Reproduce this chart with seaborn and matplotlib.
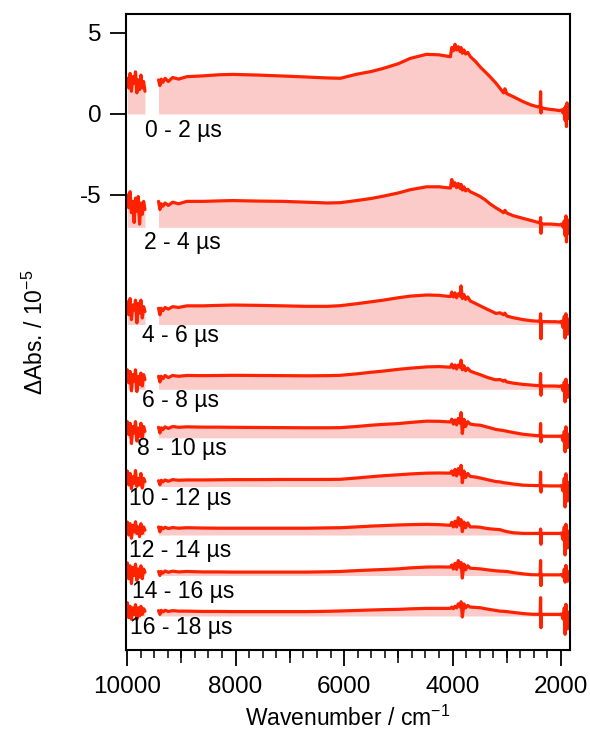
import numpy as np
import pandas as pd
import matplotlib
matplotlib.use("Agg")
import matplotlib.pyplot as plt
import seaborn as sns

# ---------------- data ----------------
labels = ["0 - 2 µs", "2 - 4 µs", "4 - 6 µs", "6 - 8 µs", "8 - 10 µs",
          "10 - 12 µs", "12 - 14 µs", "14 - 16 µs", "16 - 18 µs"]
offsets = [0.0, -7.0, -13.0, -17.0, -20.0, -23.0, -26.0, -28.5, -31.0]

wn_a = [9995, 9970, 9945, 9920, 9895, 9870, 9845, 9820, 9795, 9770, 9745, 9720, 9695, 9670]
wn_b = [9420, 9395, 9370, 9340, 9300, 9240, 9160, 9050, 8900, 8600,
        8300, 8040, 7600, 7120, 6700, 6300, 6070, 5770, 5500, 5280,
        5000, 4780, 4480, 4250, 4040, 4015, 3985, 3955, 3925, 3895,
        3860, 3843, 3820, 3790, 3760, 3720, 3675, 3580, 3490, 3400,
        3310, 3200, 3125, 3060, 3035, 3000, 2885, 2700, 2550, 2420,
        2385, 2377, 2370, 2362, 2330, 2200, 2110, 2030, 1990, 1960,
        1940, 1925, 1910, 1900, 1890, 1880, 1870, 1862]

seg_a = [
    [2.2, 1.6, 2.5, 1.4, 2.3, 1.9, 2.6, 1.3, 2.1, 1.5, 2.4, 1.6, 2.0, 1.4],
    [2.0, 1.2, 2.2, 0.9, 1.6, 0.3, 1.8, 1.0, 1.9, 0.2, 1.5, 0.8, 1.6, 1.1],
    [1.4, 0.6, 1.6, 0.3, 1.2, 0.9, 1.5, 0.1, 1.3, 0.7, 1.5, 0.4, 1.1, 0.8],
    [1.2, 0.4, 1.1, -0.1, 0.9, 0.5, 1.2, -0.14, 0.8, 0.3, 1.0, 0.2, 0.9, 0.6],
    [1.0, 0.2, 0.9, -0.35, 0.7, 0.3, 1.0, -0.2, 0.6, 0.1, 0.9, 0.0, 0.7, 0.4],
    [0.95, 0.1, 0.8, -0.14, 0.6, 0.2, 0.98, 0.0, 0.5, 0.1, 0.8, -0.1, 0.5, 0.3],
    [0.8, 0.0, 0.7, -0.2, 0.6, 0.2, 0.82, 0.1, 0.5, -0.1, 0.7, 0.1, 0.5, 0.3],
    [0.78, -0.2, 0.6, -0.5, 0.5, 0.0, 0.7, -0.3, 0.4, -0.1, 0.6, -0.2, 0.4, 0.2],
    [0.82, -0.1, 0.6, -0.2, 0.5, 0.1, 0.7, -0.2, 0.5, 0.0, 0.6, 0.1, 0.45, 0.3],
]

seg_b = [
    # 0 - 2 us
    [2.1, 1.75, 2.15, 1.95, 2.2, 2.0, 2.25, 2.15, 2.3, 2.35,
     2.42, 2.44, 2.4, 2.34, 2.28, 2.22, 2.2, 2.45, 2.62, 2.81,
     3.1, 3.43, 3.68, 3.65, 3.53, 4.1, 3.9, 4.3, 3.95, 4.15,
     3.85, 4.1, 3.75, 3.95, 3.7, 3.8, 3.55, 3.25, 2.9, 2.6,
     2.3, 1.9, 1.58, 1.3, 1.55, 1.25, 1.07, 0.76, 0.55, 0.43,
     0.4, 1.37, 0.06, 0.4, 0.35, 0.28, 0.25, 0.2, 0.25, 0.05,
     0.35, -0.4, 0.5, -0.78, 0.68, -0.3, 0.4, 0.1],
    # 2 - 4 us
    [1.6, 1.1, 1.45, 1.3, 1.5, 1.35, 1.55, 1.45, 1.6, 1.6,
     1.63, 1.65, 1.62, 1.6, 1.55, 1.5, 1.52, 1.65, 1.78, 1.92,
     2.12, 2.32, 2.5, 2.5, 2.42, 2.95, 2.55, 2.75, 2.45, 2.7,
     2.4, 2.65, 2.3, 2.5, 2.25, 2.35, 2.2, 2.05, 1.9, 1.7,
     1.45, 1.2, 1.05, 0.9, 1.05, 0.88, 0.72, 0.55, 0.42, 0.3,
     0.25, 0.6, -0.37, 0.22, 0.2, 0.2, 0.18, 0.15, 0.2, 0.0,
     0.4, -0.5, 0.7, -0.9, 0.5, -0.4, 0.3, 0.1],
    # 4 - 6 us
    [1.0, 0.6, 1.0, 0.85, 1.05, 0.95, 1.1, 1.05, 1.15, 1.15,
     1.18, 1.2, 1.18, 1.15, 1.12, 1.12, 1.16, 1.28, 1.4, 1.5,
     1.65, 1.75, 1.82, 1.8, 1.72, 2.0, 1.7, 1.95, 1.65, 1.9,
     1.75, 2.38, 1.6, 1.85, 1.55, 1.7, 1.45, 1.3, 1.15, 1.0,
     0.86, 0.68, 0.72, 0.6, 0.7, 0.52, 0.42, 0.3, 0.23, 0.2,
     0.2, 0.66, -0.88, 0.2, 0.18, 0.17, 0.17, 0.15, 0.2, -0.2,
     0.5, -0.84, 0.66, -0.5, 0.4, -0.6, 0.3, 0.0],
    # 6 - 8 us
    [0.8, 0.45, 0.8, 0.65, 0.85, 0.72, 0.85, 0.8, 0.85, 0.84,
     0.85, 0.86, 0.85, 0.84, 0.83, 0.84, 0.86, 0.95, 1.05, 1.12,
     1.23, 1.3, 1.38, 1.4, 1.36, 1.55, 1.3, 1.5, 1.25, 1.5,
     1.35, 1.79, 1.2, 1.45, 1.15, 1.3, 1.12, 1.0, 0.9, 0.78,
     0.68, 0.58, 0.6, 0.5, 0.56, 0.45, 0.38, 0.3, 0.26, 0.22,
     0.22, 0.97, -0.37, 0.2, 0.2, 0.2, 0.2, 0.18, 0.22, -0.1,
     0.45, -0.78, 0.62, -0.4, 0.3, -0.5, 0.2, 0.0],
    # 8 - 10 us
    [0.65, 0.3, 0.62, 0.5, 0.68, 0.58, 0.7, 0.65, 0.68, 0.66,
     0.66, 0.65, 0.64, 0.63, 0.62, 0.62, 0.63, 0.7, 0.78, 0.83,
     0.88, 0.95, 1.03, 1.02, 0.98, 1.15, 0.85, 1.1, 0.8, 1.2,
     0.9, 1.56, 0.27, 1.15, 0.7, 1.0, 0.85, 0.8, 0.78, 0.7,
     0.62, 0.52, 0.48, 0.45, 0.43, 0.41, 0.33, 0.22, 0.17, 0.13,
     0.12, 0.88, -0.25, 0.12, 0.1, 0.1, 0.1, 0.1, 0.12, -0.2,
     0.4, -0.86, 0.68, -0.5, 0.3, -0.6, 0.2, -0.1],
    # 10 - 12 us
    [0.35, 0.1, 0.38, 0.28, 0.4, 0.32, 0.42, 0.38, 0.4, 0.4,
     0.41, 0.42, 0.42, 0.43, 0.43, 0.43, 0.44, 0.52, 0.6, 0.66,
     0.72, 0.77, 0.82, 0.83, 0.82, 0.95, 0.7, 1.05, 0.65, 1.1,
     0.75, 1.3, 0.23, 0.95, 0.55, 0.8, 0.62, 0.58, 0.52, 0.45,
     0.38, 0.3, 0.28, 0.23, 0.22, 0.21, 0.15, 0.08, 0.06, 0.05,
     0.05, 0.88, -0.35, 0.04, 0.04, 0.03, 0.03, 0.03, 0.05, -0.3,
     0.5, -1.27, 0.78, -0.6, 0.3, -0.9, 0.2, -0.2],
    # 12 - 14 us
    [0.5, 0.2, 0.48, 0.38, 0.48, 0.4, 0.46, 0.42, 0.45, 0.43,
     0.42, 0.42, 0.42, 0.42, 0.42, 0.44, 0.45, 0.5, 0.55, 0.58,
     0.62, 0.64, 0.66, 0.64, 0.6, 0.78, 0.5, 0.85, 0.5, 1.07,
     0.6, 0.95, 0.21, 0.8, 0.45, 0.75, 0.5, 0.5, 0.48, 0.42,
     0.38, 0.35, 0.33, 0.26, 0.24, 0.21, 0.14, 0.1, 0.1, 0.1,
     0.1, 0.37, -0.57, 0.1, 0.1, 0.1, 0.1, 0.1, 0.12, -0.3,
     0.5, -1.23, 0.66, -0.6, 0.3, -0.8, 0.2, -0.1],
    # 14 - 16 us
    [0.25, 0.0, 0.25, 0.15, 0.28, 0.2, 0.27, 0.22, 0.25, 0.22,
     0.22, 0.21, 0.21, 0.21, 0.21, 0.23, 0.25, 0.3, 0.34, 0.37,
     0.41, 0.47, 0.52, 0.53, 0.52, 0.65, 0.4, 0.75, 0.38, 0.92,
     0.5, 0.8, -0.16, 0.7, 0.35, 0.6, 0.45, 0.43, 0.41, 0.37,
     0.33, 0.29, 0.27, 0.26, 0.25, 0.25, 0.18, 0.1, 0.05, 0.04,
     0.04, 0.92, -0.62, 0.04, 0.04, 0.04, 0.04, 0.04, 0.06, -0.1,
     0.4, -0.41, 0.62, -0.3, 0.3, -0.35, 0.2, 0.0],
    # 16 - 18 us
    [0.33, 0.1, 0.35, 0.25, 0.35, 0.28, 0.33, 0.3, 0.3, 0.28,
     0.28, 0.27, 0.27, 0.27, 0.27, 0.29, 0.31, 0.34, 0.37, 0.39,
     0.41, 0.44, 0.47, 0.47, 0.47, 0.55, 0.45, 0.6, 0.5, 0.75,
     0.55, 0.88, -0.06, 0.75, 0.5, 0.65, 0.55, 0.53, 0.51, 0.45,
     0.4, 0.34, 0.3, 0.29, 0.28, 0.27, 0.22, 0.15, 0.11, 0.1,
     0.1, 1.13, -0.72, 0.1, 0.1, 0.1, 0.1, 0.1, 0.12, -0.2,
     0.5, -1.13, 0.72, -0.5, 0.3, -0.8, 0.2, -0.1],
]

label_wn = [9668, 9687, 9729, 9729, 9816, 9958, 9958, 9913, 9945]
label_y = [-1.05, -7.94, -13.71, -17.72, -20.65, -23.77, -26.95, -29.51, -31.73]

x_major = [10000, 8000, 6000, 4000, 2000]
x_medium = [9000, 7000, 5000, 3000]
y_ticks = [5, 0, -5]

# ---------------- style ----------------
sns.set_style("ticks")
plt.rcParams["font.family"] = ["Liberation Sans", "DejaVu Sans"]
plt.rcParams["mathtext.fontset"] = "custom"
plt.rcParams["mathtext.rm"] = "Liberation Sans"
plt.rcParams["mathtext.it"] = "Liberation Sans:italic"
plt.rcParams["axes.unicode_minus"] = False
plt.rcParams["lines.solid_joinstyle"] = "round"
for key in ["text.color", "axes.labelcolor", "xtick.color", "ytick.color",
            "xtick.labelcolor", "ytick.labelcolor", "axes.edgecolor"]:
    plt.rcParams[key] = "black"

line_color = "#FF2200"
fill_color = "#FBCBC9"

rows = []
for i, lab in enumerate(labels):
    for seg_name, wns, vals in (("a", wn_a, seg_a[i]), ("b", wn_b, seg_b[i])):
        for w, v in zip(wns, vals):
            rows.append({"wavenumber": w, "signal": v + offsets[i],
                         "trace": lab, "unit": f"{i}{seg_name}",
                         "base": offsets[i]})
df = pd.DataFrame(rows)

fig = plt.figure(figsize=(5.9, 7.31), dpi=100)
ax = fig.add_axes([126 / 590, 81 / 731, 444 / 590, 636 / 731])

for unit, g in df.groupby("unit", sort=False):
    ax.fill_between(g["wavenumber"], g["base"], g["signal"],
                    color=fill_color, linewidth=0, zorder=1)

sns.lineplot(data=df, x="wavenumber", y="signal", units="unit",
             estimator=None, sort=False, color=line_color, lw=2.3,
             legend=False, ax=ax, zorder=2)

for lab, xw, yv in zip(labels, label_wn, label_y):
    ax.text(xw, yv, lab, ha="left", va="center", fontsize=16.5, color="black", zorder=3)

ax.set_xlim(10020, 1835)
ax.set_ylim(-33.1, 6.17)

ax.set_xticks(x_major)
ax.set_xticklabels([str(v) for v in x_major])
ax.xaxis.set_minor_locator(matplotlib.ticker.MultipleLocator(250))
ax.set_yticks(y_ticks)
ax.set_yticklabels([str(v) for v in y_ticks])

ax.tick_params(axis="both", which="major", direction="out", length=11.5,
               width=1.3, labelsize=17.5, pad=7, color="black", labelcolor="black")
ax.tick_params(axis="y", which="major", pad=6)
ax.tick_params(axis="x", which="minor", direction="out", length=5.5,
               width=1.1, color="black")
ax.tick_params(axis="y", which="minor", left=False)

sec = ax.secondary_xaxis("bottom")
sec.set_xticks(x_medium)
sec.set_xticklabels([""] * len(x_medium))
sec.tick_params(axis="x", which="major", direction="out", length=9,
                width=1.1, color="black")
sec.tick_params(axis="x", which="minor", bottom=False)
sec.spines["bottom"].set_visible(False)

for side in ["left", "right", "top", "bottom"]:
    ax.spines[side].set_visible(True)
    ax.spines[side].set_linewidth(1.5)
    ax.spines[side].set_color("black")

ax.set_xlabel("Wavenumber / cm$^{-1}$", fontsize=16.5, va="center")
ax.set_ylabel("ΔAbs. / 10$^{-5}$", fontsize=16.5, va="center")
ax.xaxis.set_label_coords(0.5, -0.108)
ax.yaxis.set_label_coords(-0.205, 0.5)

fig.savefig("out.png", dpi=100)
